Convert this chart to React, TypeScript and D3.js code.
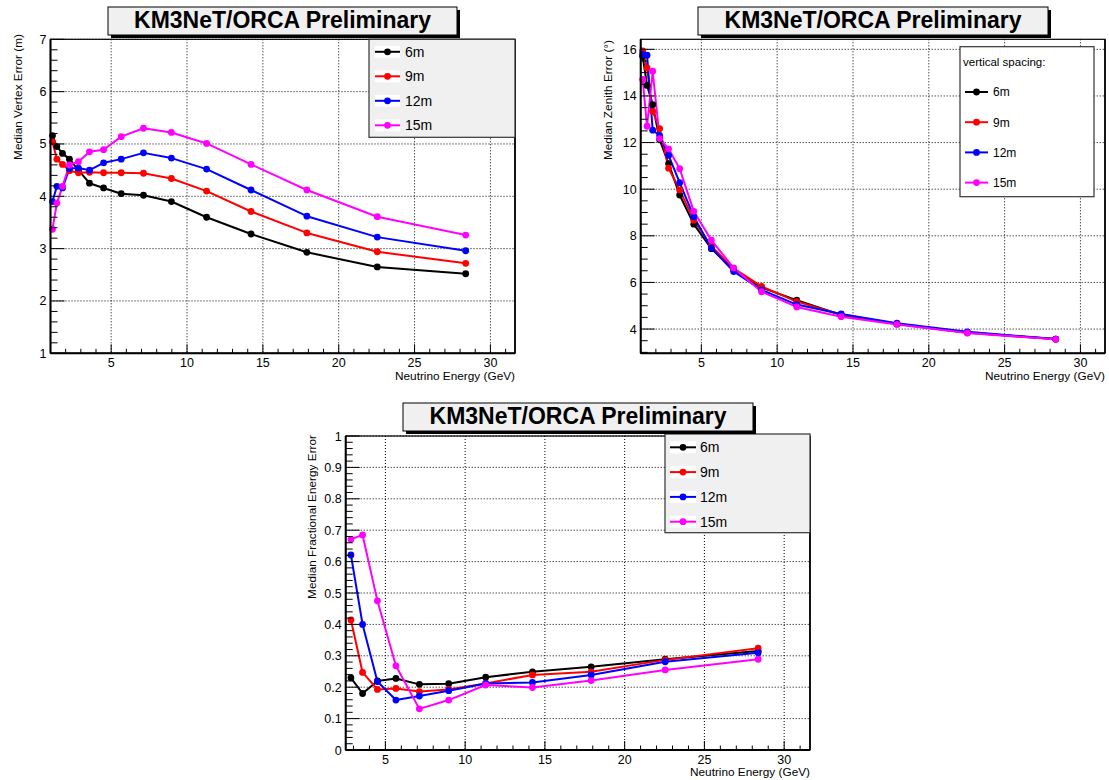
import React from 'react';
import * as d3 from 'd3';

// ---------- DATA ----------
const energy = [1.13, 1.42, 1.79, 2.25, 2.84, 3.57, 4.5, 5.66, 7.13, 8.97, 11.29, 14.22, 17.9, 22.54, 28.37];
const energyFrac = [2.84, 3.57, 4.5, 5.66, 7.13, 8.97, 11.29, 14.22, 17.9, 22.54, 28.37];

const seriesNames = ['6m', '9m', '12m', '15m'];
const seriesColors = ['#000000', '#ff0000', '#0000ff', '#ff00ff'];

const vertex6 = [5.16, 4.95, 4.82, 4.71, 4.5, 4.25, 4.16, 4.05, 4.02, 3.9, 3.6, 3.28, 2.93, 2.65, 2.52];
const vertex9 = [5.04, 4.71, 4.61, 4.49, 4.45, 4.46, 4.45, 4.45, 4.44, 4.34, 4.1, 3.71, 3.3, 2.94, 2.72];
const vertex12 = [3.9, 4.19, 4.16, 4.53, 4.54, 4.5, 4.64, 4.71, 4.83, 4.73, 4.52, 4.12, 3.62, 3.22, 2.96];
const vertex15 = [3.37, 3.87, 4.19, 4.6, 4.66, 4.85, 4.89, 5.14, 5.3, 5.22, 5.01, 4.61, 4.12, 3.61, 3.26];

const zenith6 = [15.7, 14.45, 13.63, 12.12, 11.1, 9.75, 8.5, 7.45, 6.55, 5.78, 5.24, 4.6, 4.22, 3.85, 3.57];
const zenith9 = [15.93, 15.2, 13.34, 12.6, 10.9, 9.97, 8.67, 7.55, 6.6, 5.83, 5.18, 4.62, 4.23, 3.84, 3.57];
const zenith12 = [15.78, 15.75, 12.53, 12.3, 11.45, 10.28, 8.82, 7.48, 6.47, 5.68, 5.05, 4.65, 4.25, 3.88, 3.57];
const zenith15 = [14.71, 12.7, 15.06, 12.17, 11.73, 10.88, 9.05, 7.81, 6.62, 5.6, 4.95, 4.53, 4.2, 3.83, 3.56];

const efrac6 = [0.23, 0.18, 0.22, 0.228, 0.209, 0.211, 0.232, 0.249, 0.265, 0.289, 0.315];
const efrac9 = [0.414, 0.247, 0.193, 0.196, 0.186, 0.193, 0.212, 0.239, 0.249, 0.287, 0.324];
const efrac12 = [0.621, 0.4, 0.218, 0.159, 0.172, 0.189, 0.212, 0.215, 0.239, 0.281, 0.31];
const efrac15 = [0.671, 0.685, 0.475, 0.268, 0.131, 0.159, 0.207, 0.199, 0.221, 0.255, 0.289];

const xMajorTicks = [5, 10, 15, 20, 25, 30];
const titleText = 'KM3NeT/ORCA Preliminary';
const xTitle = 'Neutrino Energy (GeV)';

const FONT = '"Liberation Sans", Arial, Helvetica, sans-serif';

type LegendCfg = {
  x: number; y: number; w: number; h: number; fill: string;
  header?: string; firstRow: number; rowStep: number;
  sx0: number; sx1: number; labelX: number; fontSize: number; whiteBg: boolean;
};

type PanelCfg = {
  left: number; right: number; top: number; bottom: number;
  xDomain: [number, number]; yDomain: [number, number];
  yMajor: number[]; yMinorStep: number;
  xs: number[]; ys: number[][];
  yTitle: string; yTitleX: number; yTitleEnd: number;
  title: { x: number; y: number; w: number; h: number };
  legend: LegendCfg;
  xTitleY: number;
};

const panels: PanelCfg[] = [
  {
    left: 50.5, right: 515, top: 39.3, bottom: 353.3,
    xDomain: [1, 31.62], yDomain: [1, 7],
    yMajor: [1, 2, 3, 4, 5, 6, 7], yMinorStep: 0.2,
    xs: energy, ys: [vertex6, vertex9, vertex12, vertex15],
    yTitle: 'Median Vertex Error (m)', yTitleX: 22, yTitleEnd: 34,
    title: { x: 108, y: 7, w: 349, h: 28 },
    legend: { x: 369, y: 39.3, w: 146, h: 98, fill: '#f0f0f0', firstRow: 12.5, rowStep: 24.5,
      sx0: 375, sx1: 400, labelX: 405, fontSize: 14, whiteBg: true },
    xTitleY: 380,
  },
  {
    left: 640.7, right: 1105, top: 39.3, bottom: 353.3,
    xDomain: [1, 31.62], yDomain: [2.96, 16.43],
    yMajor: [4, 6, 8, 10, 12, 14, 16], yMinorStep: 0.5,
    xs: energy, ys: [zenith6, zenith9, zenith12, zenith15],
    yTitle: 'Median Zenith Error (°)', yTitleX: 612, yTitleEnd: 40,
    title: { x: 698, y: 7, w: 350, h: 28 },
    legend: { x: 960, y: 46.7, w: 134, h: 150, fill: '#ffffff', header: 'vertical spacing:',
      firstRow: 45.3, rowStep: 30.2, sx0: 965, sx1: 988, labelX: 993, fontSize: 12, whiteBg: false },
    xTitleY: 380,
  },
  {
    left: 345.7, right: 810, top: 436, bottom: 750,
    xDomain: [2.512, 31.62], yDomain: [0, 1],
    yMajor: [0, 0.1, 0.2, 0.3, 0.4, 0.5, 0.6, 0.7, 0.8, 0.9, 1], yMinorStep: 0.02,
    xs: energyFrac, ys: [efrac6, efrac9, efrac12, efrac15],
    yTitle: 'Median Fractional Energy Error', yTitleX: 316, yTitleEnd: 435,
    title: { x: 403, y: 403, w: 350, h: 28 },
    legend: { x: 665, y: 434, w: 145, h: 98.7, fill: '#f0f0f0', firstRow: 13.3, rowStep: 24.8,
      sx0: 670, sx1: 696, labelX: 700, fontSize: 14, whiteBg: true },
    xTitleY: 776,
  },
];

function Panel({ cfg }: { cfg: PanelCfg }) {
  const x = d3.scaleLinear().domain(cfg.xDomain).range([cfg.left, cfg.right]);
  const y = d3.scaleLinear().domain(cfg.yDomain).range([cfg.bottom, cfg.top]);
  const fmt = d3.format('~g');

  const xMinor: number[] = [];
  for (let v = Math.ceil(cfg.xDomain[0]); v <= cfg.xDomain[1]; v += 1) {
    if (v % 5 !== 0) xMinor.push(v);
  }
  const yMinor: number[] = [];
  const n0 = Math.ceil(cfg.yDomain[0] / cfg.yMinorStep - 1e-6);
  const n1 = Math.floor(cfg.yDomain[1] / cfg.yMinorStep + 1e-6);
  for (let k = n0; k <= n1; k++) {
    const v = +(k * cfg.yMinorStep).toFixed(4);
    if (!cfg.yMajor.some((m) => Math.abs(m - v) < 1e-6)) yMinor.push(v);
  }

  const line = d3.line<number>().x((_, i) => x(cfg.xs[i])).y((d) => y(d));
  const L = cfg.legend;

  return (
    <g fontFamily={FONT}>
      {/* grid */}
      {xMajorTicks.map((t) => (
        <line key={'gx' + t} x1={x(t)} x2={x(t)} y1={cfg.top} y2={cfg.bottom}
          stroke="#000" strokeWidth={1} strokeDasharray="1 2" />
      ))}
      {cfg.yMajor.map((t) => (
        <line key={'gy' + t} x1={cfg.left} x2={cfg.right} y1={y(t)} y2={y(t)}
          stroke="#000" strokeWidth={1} strokeDasharray="1 2" />
      ))}
      {/* series */}
      {cfg.ys.map((vals, si) => (
        <path key={'l' + si} d={line(vals) || ''} fill="none" stroke={seriesColors[si]}
          strokeWidth={2} strokeLinejoin="round" />
      ))}
      {cfg.ys.map((vals, si) => (
        <g key={'m' + si} fill={seriesColors[si]}>
          {vals.map((v, i) => (
            <circle key={i} cx={x(cfg.xs[i])} cy={y(v)} r={3.4} />
          ))}
        </g>
      ))}
      {/* frame */}
      <rect x={cfg.left} y={cfg.top} width={cfg.right - cfg.left} height={cfg.bottom - cfg.top}
        fill="none" stroke="#000" strokeWidth={1.2} />
      <line x1={cfg.left} x2={cfg.left} y1={cfg.top} y2={cfg.bottom} stroke="#000" strokeWidth={2} />
      <line x1={cfg.left} x2={cfg.right} y1={cfg.bottom} y2={cfg.bottom} stroke="#000" strokeWidth={2} />
      <line x1={cfg.right} x2={cfg.right} y1={cfg.top} y2={cfg.bottom} stroke="#000" strokeWidth={1.6} />
      {/* x ticks */}
      {xMajorTicks.map((t) => (
        <g key={'xt' + t}>
          <line x1={x(t)} x2={x(t)} y1={cfg.bottom} y2={cfg.bottom - 9} stroke="#000" strokeWidth={1} />
          <text x={x(t)} y={cfg.bottom + 14} textAnchor="middle" fontSize={12.5}>{t}</text>
        </g>
      ))}
      {xMinor.map((t) => (
        <line key={'xm' + t} x1={x(t)} x2={x(t)} y1={cfg.bottom} y2={cfg.bottom - 4.5} stroke="#000" strokeWidth={1} />
      ))}
      {/* y ticks */}
      {cfg.yMajor.map((t) => (
        <g key={'yt' + t}>
          <line x1={cfg.left} x2={cfg.left + 14} y1={y(t)} y2={y(t)} stroke="#000" strokeWidth={1} />
          <text x={cfg.left - 4} y={y(t)} dy="0.36em" textAnchor="end" fontSize={12.5}>{fmt(t)}</text>
        </g>
      ))}
      {yMinor.map((t) => (
        <line key={'ym' + t} x1={cfg.left} x2={cfg.left + 7} y1={y(t)} y2={y(t)} stroke="#000" strokeWidth={1} />
      ))}
      {/* axis titles */}
      <text x={cfg.right} y={cfg.xTitleY} textAnchor="end" fontSize={11.8}>{xTitle}</text>
      <text transform={`translate(${cfg.yTitleX},${cfg.yTitleEnd}) rotate(-90)`} textAnchor="end" fontSize={11.8}>
        {cfg.yTitle}
      </text>
      {/* legend */}
      <rect x={L.x} y={L.y} width={L.w} height={L.h} fill={L.fill} stroke="#333" strokeWidth={1.2} />
      {L.header && (
        <text x={L.x + 3} y={L.y + 15} dy="0.36em" fontSize={11.5}>{L.header}</text>
      )}
      {seriesNames.map((name, si) => {
        const ry = L.y + L.firstRow + si * L.rowStep;
        return (
          <g key={'lg' + si}>
            {L.whiteBg && (
              <rect x={L.sx0} y={ry - 6} width={L.sx1 - L.sx0} height={12} fill="#ffffff" />
            )}
            <line x1={L.sx0} x2={L.sx1} y1={ry} y2={ry} stroke={seriesColors[si]} strokeWidth={2} />
            <circle cx={(L.sx0 + L.sx1) / 2} cy={ry} r={3.4} fill={seriesColors[si]} />
            <text x={L.labelX} y={ry} dy="0.36em" fontSize={L.fontSize}>{name}</text>
          </g>
        );
      })}
      {/* title */}
      <rect x={cfg.title.x + 3} y={cfg.title.y + 3} width={cfg.title.w} height={cfg.title.h} fill="#000" />
      <rect x={cfg.title.x} y={cfg.title.y} width={cfg.title.w} height={cfg.title.h}
        fill="#f0f0f0" stroke="#000" strokeWidth={1} />
      <text x={cfg.title.x + cfg.title.w / 2} y={cfg.title.y + 20.5} textAnchor="middle"
        fontSize={23} fontWeight="bold">{titleText}</text>
    </g>
  );
}

export default function App() {
  return (
    <svg width={1109} height={780} style={{ position: 'absolute', left: 0, top: 0, background: '#fff' }}>
      <rect x={0} y={0} width={1109} height={780} fill="#ffffff" />
      {panels.map((p, i) => (
        <Panel key={i} cfg={p} />
      ))}
    </svg>
  );
}
